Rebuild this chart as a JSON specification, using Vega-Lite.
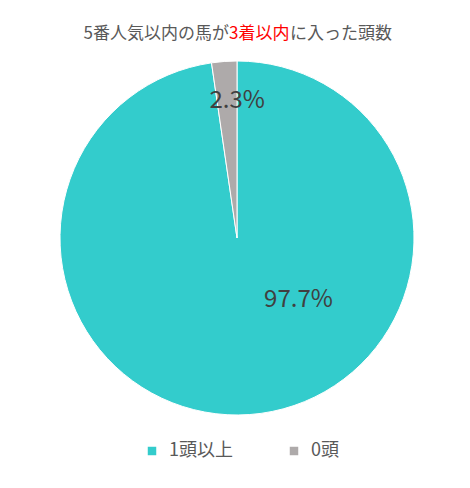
{
  "$schema": "https://vega.github.io/schema/vega-lite/v6.json",
  "background": "white",
  "padding": {"left": 58, "top": 24, "right": 56, "bottom": 5},
  "config": {
    "font": "Noto Sans CJK JP",
    "view": {"stroke": null}
  },
  "spacing": 15,
  "vconcat": [
    {
      "spacing": 0,
      "hconcat": [
        {
          "width": 169,
          "height": 20,
          "data": {"values": [{"t": "5番人気以内の馬が"}]},
          "mark": {"type": "text", "align": "right", "baseline": "middle", "x": "width", "fontSize": 17, "color": "#595959"},
          "encoding": {"text": {"field": "t"}}
        },
        {
          "width": 60,
          "height": 20,
          "data": {"values": [{"t": "3着以内"}]},
          "mark": {"type": "text", "align": "left", "baseline": "middle", "x": 0, "fontSize": 17, "color": "#FF0000"},
          "encoding": {"text": {"field": "t"}}
        },
        {
          "width": 102,
          "height": 20,
          "data": {"values": [{"t": "に入った頭数"}]},
          "mark": {"type": "text", "align": "left", "baseline": "middle", "x": 0, "fontSize": 17, "color": "#595959"},
          "encoding": {"text": {"field": "t"}}
        }
      ]
    },
    {
      "width": 354,
      "height": 354,
      "data": {
        "values": [
          {"category": "1頭以上", "value": 97.7, "label": "97.7%", "order": 1},
          {"category": "0頭", "value": 2.3, "label": "2.3%", "order": 2}
        ]
      },
      "encoding": {
        "theta": {"field": "value", "type": "quantitative", "stack": true},
        "order": {"field": "order", "type": "quantitative"},
        "color": {
          "field": "category",
          "type": "nominal",
          "scale": {"domain": ["1頭以上", "0頭"], "range": ["#33CCCC", "#AEAAAA"]},
          "legend": {
            "orient": "none",
            "legendX": 83,
            "legendY": 418,
            "direction": "horizontal",
            "title": null,
            "symbolType": "square",
            "symbolSize": 72,
            "symbolStrokeWidth": 0,
            "labelFontSize": 18,
            "labelColor": "#595959",
            "labelOffset": 8,
            "columnPadding": 52
          }
        }
      },
      "layer": [
        {"mark": {"type": "arc", "stroke": "white", "strokeWidth": 1}},
        {
          "mark": {"type": "text", "radius": 137, "dx": 10, "fontSize": 24, "align": "center", "baseline": "middle"},
          "encoding": {
            "text": {"field": "label"},
            "color": {"value": "#404040"},
            "opacity": {"condition": {"test": "datum.category === '0頭'", "value": 1}, "value": 0}
          }
        },
        {
          "mark": {"type": "text", "radius": 62, "dx": 57, "fontSize": 24, "align": "center", "baseline": "middle"},
          "encoding": {
            "text": {"field": "label"},
            "color": {"value": "#404040"},
            "opacity": {"condition": {"test": "datum.category === '1頭以上'", "value": 1}, "value": 0}
          }
        }
      ]
    }
  ]
}
